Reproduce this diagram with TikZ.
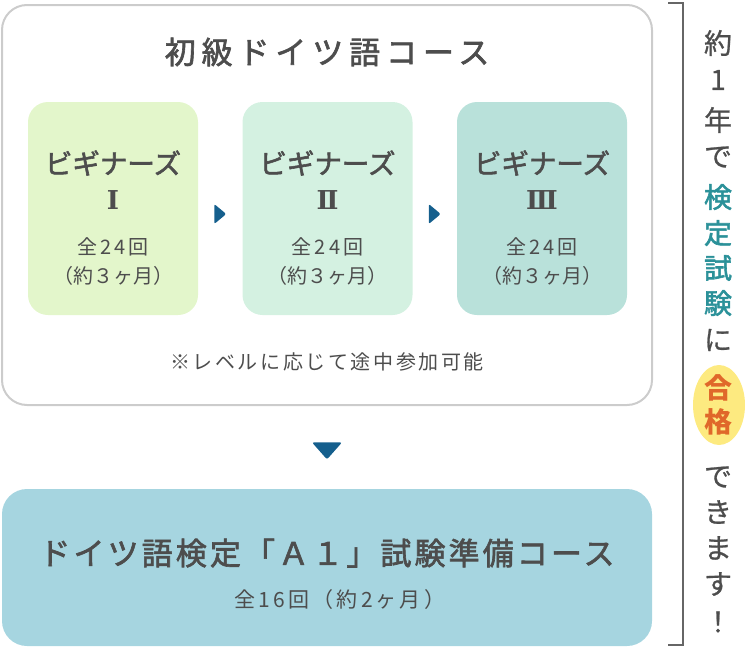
\documentclass[tikz,border=0pt]{standalone}
\usepackage{fontspec}
\setmainfont{Noto Sans CJK JP}
\newfontfamily\medfont{Noto Sans CJK JP}[FakeBold=2]
\newfontfamily\softfont{Noto Sans CJK JP}[FakeBold=0.8]
\newfontfamily\numeralfont{DejaVu Serif}
\usetikzlibrary{positioning, calc}

\definecolor{textgray}{HTML}{4D4D4D}
\definecolor{framegray}{HTML}{CCCCCC}
\definecolor{beginA}{HTML}{E3F6CB}
\definecolor{beginB}{HTML}{D4F1E1}
\definecolor{beginC}{HTML}{B9E1DA}
\definecolor{prepblue}{HTML}{A6D5E0}
\definecolor{tipblue}{HTML}{155F8D}
\definecolor{examteal}{HTML}{2B9199}
\definecolor{passorange}{HTML}{E0682A}
\definecolor{passyellow}{HTML}{FDEA80}
\definecolor{bracketgray}{HTML}{666666}

\begin{document}
\begin{tikzpicture}[x=1pt,y=-1pt,node distance=214.5pt,on grid,
  every node/.style={text=textgray,inner sep=0pt},
  outerbox/.style={draw=framegray,line width=2pt,rounded corners=25pt,
    minimum width=650pt,minimum height=400pt},
  level/.style={rounded corners=20pt,minimum width=170pt,minimum height=213pt},
  prepbox/.style={fill=prepblue,rounded corners=25pt,
    minimum width=650pt,minimum height=157pt},
  coursetitle/.style={font=\medfont\fontsize{31}{33}\selectfont\addfontfeature{LetterSpace=19}},
  levelname/.style={font=\medfont\fontsize{27.5}{30}\selectfont},
  levelnum/.style={font=\numeralfont\bfseries\fontsize{26}{28}\selectfont},
  levelinfo/.style={font=\fontsize{20}{22}\selectfont\addfontfeature{LetterSpace=15}},
  levelspan/.style={font=\fontsize{20}{22}\selectfont},
  prepinfo/.style={font=\fontsize{21}{23}\selectfont\addfontfeature{LetterSpace=15}},
  note/.style={font=\fontsize{20}{22}\selectfont\addfontfeature{LetterSpace=13}},
  preptitle/.style={font=\medfont\fontsize{31}{33}\selectfont\addfontfeature{LetterSpace=10}},
  tip/.style={fill=tipblue,rounded corners=2pt},
  bracket/.style={draw=bracketgray,line width=2pt},
  vplain/.style={font=\softfont\fontsize{28}{30}\selectfont},
  vteal/.style={font=\medfont\fontsize{28}{30}\selectfont,text=examteal},
  vpass/.style={font=\bfseries\fontsize{28}{30}\selectfont,text=passorange}]

  \useasboundingbox (0,0) rectangle (750,651);

  % beginner course
  \node[outerbox] (course) at (327,205) {};
  \node[coursetitle] (title) at (327,52) {初級ドイツ語コース};

  \node[level,fill=beginA] (b1) at (113,208.5) {};
  \node[level,fill=beginB] (b2) [right=of b1] {};
  \node[level,fill=beginC] (b3) [right=of b2] {};

  \foreach \b/\n in {b1/Ⅰ, b2/Ⅱ, b3/Ⅲ} {
    \node[levelname] at ([yshift=45.5pt]\b.center) {ビギナーズ};
    \node[levelnum] at ([yshift=8.5pt]\b.center) {\n};
    \node[levelinfo] at ([yshift=-38.5pt]\b.center) {全24回};
    \node[levelspan] at ([yshift=-67.5pt]\b.center) {（約３ヶ月）};
  }

  \fill[tip] ($(b1.east)!0.5!(b2.west)$) ++(-6,-4.5) -- ++(12,10) -- ++(-12,10) -- cycle;
  \fill[tip] ($(b2.east)!0.5!(b3.west)$) ++(-6,-4.5) -- ++(12,10) -- ++(-12,10) -- cycle;

  \node[note] (join) at (327,362) {※レベルに応じて途中参加可能};

  % exam course
  \node[prepbox] (a1) at (327,567.5) {};
  \node[preptitle] at ([yshift=14.5pt]a1.center) {ドイツ語検定「Ａ１」試験準備コース};
  \node[prepinfo] at ([xshift=13pt,yshift=-32.5pt]a1.center) {全16回（約2ヶ月）};

  \fill[tip] ($(course.south)!0.5!(a1.north)$) ++(-15,-5) -- ++(30,0) -- ++(-15,17) -- cycle;

  % one year bracket
  \coordinate (top) at (668,3);
  \coordinate (bot) at (668,645);
  \draw[bracket] (top) -- ++(15,0) |- (bot);

  \fill[passyellow] (719,405) ellipse (26 and 40);
  \foreach \c/\y/\s in {約/43/vplain, 1/80/vplain, 年/120/vplain, で/157/vplain,
      検/197/vteal, 定/233/vteal, 試/268/vteal, 験/303/vteal, に/340/vplain,
      合/388/vpass, 格/422/vpass, で/477/vplain, き/512/vplain, ま/548/vplain,
      す/584/vplain, ！/622/vplain}
    \node[\s] at (718,\y) {\c};
\end{tikzpicture}
\end{document}
